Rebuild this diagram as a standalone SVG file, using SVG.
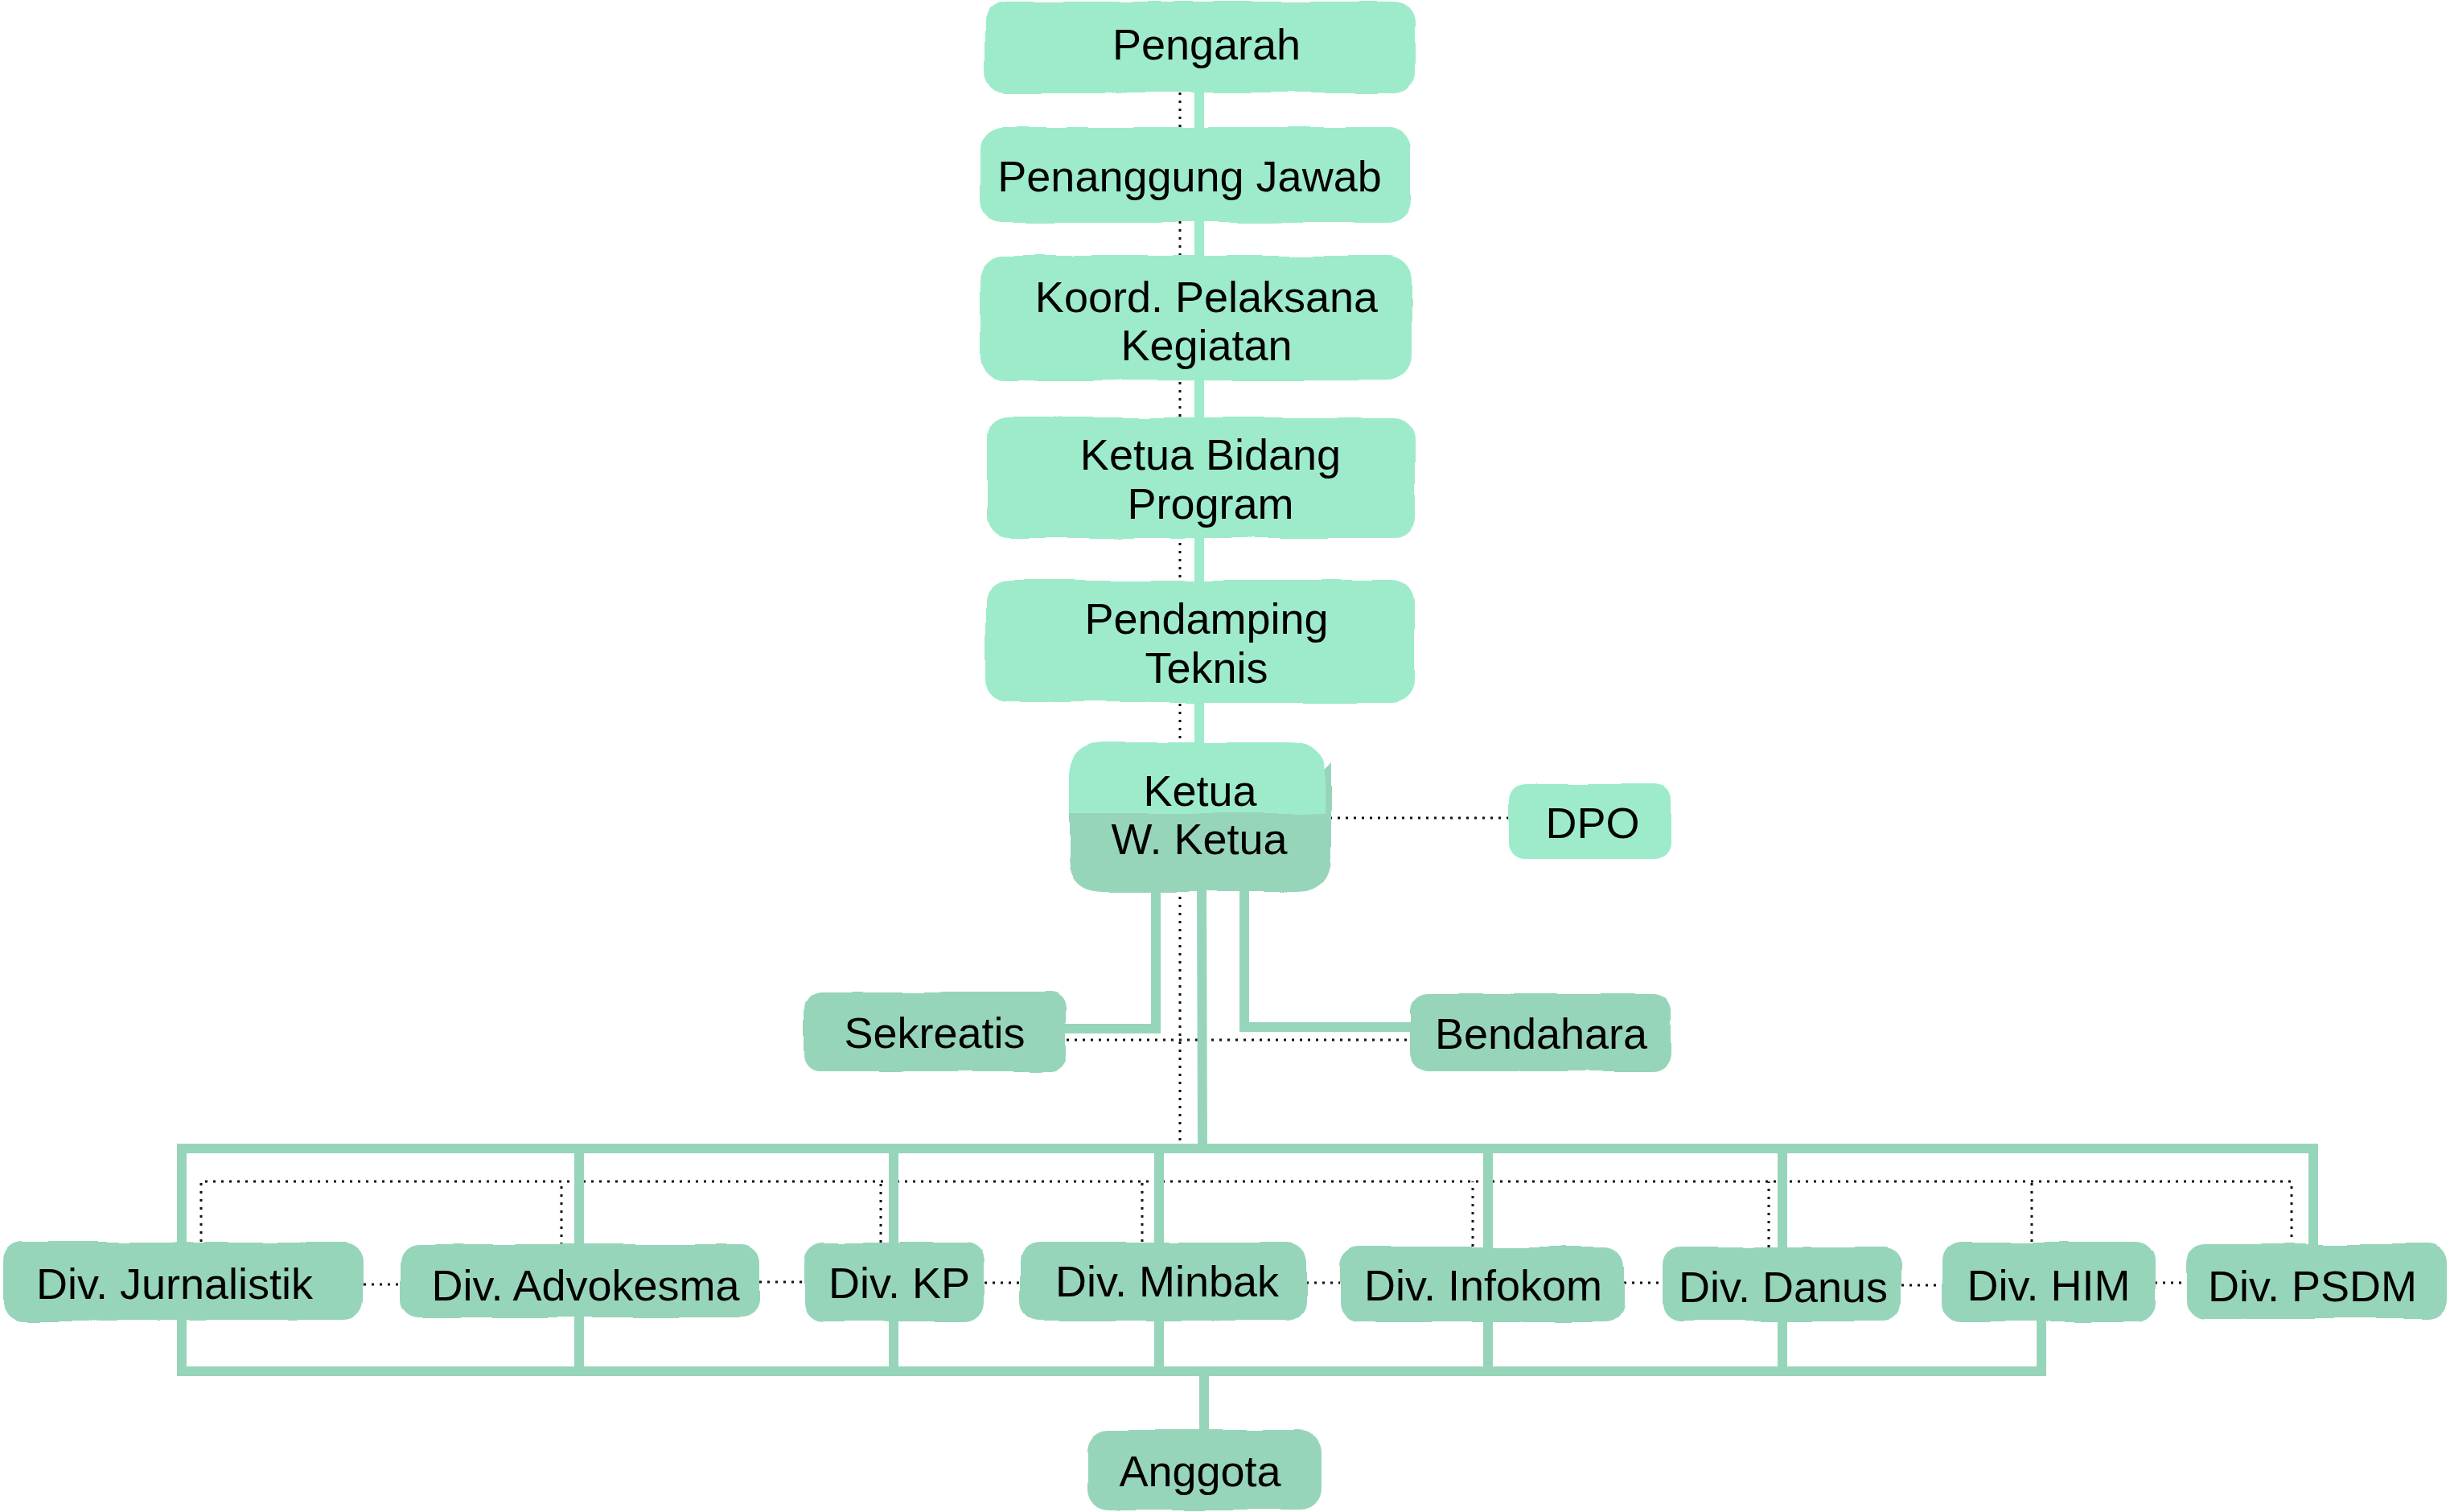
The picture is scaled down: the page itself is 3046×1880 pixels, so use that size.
<svg xmlns="http://www.w3.org/2000/svg" width="3046" height="1880" viewBox="0 0 3046 1880">
<style>
.lt{fill:#9EEBCC}
.dk{fill:#97D5BB}
.t{font-family:"Liberation Sans",Arial,sans-serif;font-size:54px;fill:#000;text-anchor:middle}
.cl{fill:none;stroke:#9EEBCC;stroke-width:12}
.cd{fill:none;stroke:#97D5BB;stroke-width:12}
.dot{fill:none;stroke:#111;stroke-width:3;stroke-dasharray:3 7}
</style>
<defs>
<filter id="rough" x="-5%" y="-10%" width="110%" height="120%">
<feTurbulence type="fractalNoise" baseFrequency="0.012" numOctaves="2" seed="3"/>
<feDisplacementMap in="SourceGraphic" scale="7" xChannelSelector="R" yChannelSelector="G"/>
</filter>
</defs>
<rect width="3046" height="1880" fill="#fff"/>
<g id="connectors">
<line class="dot" x1="1467" y1="115" x2="1467" y2="1423"/>
<line class="dot" x1="1653" y1="1017" x2="1877" y2="1017"/>
<line class="dot" x1="1326" y1="1293" x2="1753" y2="1293"/>
<path class="dot" d="M250 1544 V1469 H2849 V1547"/>
<path class="dot" d="M698 1548 V1469 M1095 1545 V1469 M1420 1544 V1469 M1831 1550 V1469 M2199 1551 V1469 M2526 1544 V1469"/>
<path class="dot" d="M452 1597 H498 M944 1594 H1000 M1224 1595 H1269 M1624 1595 H1666 M2019 1595 H2067 M2364 1598 H2415 M2679 1595 H2719"/>
<line class="cl" x1="1491" y1="110" x2="1491" y2="930"/>
<line class="cd" x1="1494" y1="1100" x2="1495" y2="1428"/>
<path class="cd" d="M1437 1100 V1279 H1320"/>
<path class="cd" d="M1547 1100 V1277 H1760"/>
<path class="cd" d="M226 1550 V1428 H2876 V1555"/>
<path class="cd" d="M226 1630 V1705 H2538 V1630"/>
<path class="cd" d="M720 1428 V1705 M1111 1428 V1705 M1441 1428 V1705 M1850 1428 V1705 M2216 1428 V1705"/>
<line class="cd" x1="1497" y1="1705" x2="1497" y2="1785"/>
</g>
<g id="n-pengarah"><rect class="lt" filter="url(#rough)" x="1225" y="2" width="534" height="113" rx="26"/><text class="t" x="1500" y="74">Pengarah</text></g>
<g id="n-penanggung"><rect class="lt" filter="url(#rough)" x="1218" y="158" width="536" height="119" rx="28"/><text class="t" x="1479" y="238">Penanggung Jawab</text></g>
<g id="n-koord"><rect class="lt" filter="url(#rough)" x="1218" y="318" width="537" height="155" rx="30"/><text class="t" x="1500" y="388">Koord. Pelaksana</text><text class="t" x="1500" y="448">Kegiatan</text></g>
<g id="n-ketuabidang"><rect class="lt" filter="url(#rough)" x="1228" y="519" width="532" height="150" rx="26"/><text class="t" x="1505" y="584">Ketua Bidang</text><text class="t" x="1505" y="645">Program</text></g>
<g id="n-pendamping"><rect class="lt" filter="url(#rough)" x="1226" y="721" width="532" height="153" rx="28"/><text class="t" x="1500" y="788">Pendamping</text><text class="t" x="1500" y="849">Teknis</text></g>
<g id="n-ketua">
<g filter="url(#rough)">
<path class="dk" d="M1329 1011 H1645 V960 L1655 950 V1065 Q1655 1109 1611 1109 H1373 Q1329 1109 1329 1065 Z"/>
<path class="lt" d="M1329 1011 V967 Q1329 923 1373 923 H1603 Q1647 923 1647 967 V1011 Z"/>
</g>
<text class="t" x="1492" y="1002">Ketua</text><text class="t" x="1491" y="1062">W. Ketua</text></g>
<g id="n-dpo"><rect class="lt" filter="url(#rough)" x="1877" y="975" width="200" height="93" rx="20"/><text class="t" x="1980" y="1042">DPO</text></g>
<g id="n-sekreatis"><rect class="dk" filter="url(#rough)" x="1000" y="1234" width="326" height="98" rx="20"/><text class="t" x="1162" y="1303">Sekreatis</text></g>
<g id="n-bendahara"><rect class="dk" filter="url(#rough)" x="1753" y="1235" width="324" height="97" rx="22"/><text class="t" x="1916" y="1304">Bendahara</text></g>
<g id="n-jurnalistik"><rect class="dk" filter="url(#rough)" x="4" y="1544" width="448" height="98" rx="24"/><text class="t" x="217" y="1615">Div. Jurnalistik</text></g>
<g id="n-advokesma"><rect class="dk" filter="url(#rough)" x="498" y="1548" width="446" height="90" rx="22"/><text class="t" x="728" y="1617">Div. Advokesma</text></g>
<g id="n-kp"><rect class="dk" filter="url(#rough)" x="1000" y="1545" width="224" height="98" rx="24"/><text class="t" x="1118" y="1614">Div. KP</text></g>
<g id="n-minbak"><rect class="dk" filter="url(#rough)" x="1269" y="1544" width="355" height="98" rx="24"/><text class="t" x="1451" y="1612">Div. Minbak</text></g>
<g id="n-infokom"><rect class="dk" filter="url(#rough)" x="1666" y="1550" width="353" height="94" rx="24"/><text class="t" x="1844" y="1617">Div. Infokom</text></g>
<g id="n-danus"><rect class="dk" filter="url(#rough)" x="2067" y="1551" width="297" height="92" rx="22"/><text class="t" x="2217" y="1619">Div. Danus</text></g>
<g id="n-him"><rect class="dk" filter="url(#rough)" x="2415" y="1544" width="264" height="99" rx="24"/><text class="t" x="2547" y="1617">Div. HIM</text></g>
<g id="n-psdm"><rect class="dk" filter="url(#rough)" x="2719" y="1547" width="325" height="93" rx="24"/><text class="t" x="2875" y="1618">Div. PSDM</text></g>
<g id="n-anggota"><rect class="dk" filter="url(#rough)" x="1352" y="1778" width="291" height="100" rx="26"/><text class="t" x="1492" y="1848">Anggota</text></g>
</svg>
